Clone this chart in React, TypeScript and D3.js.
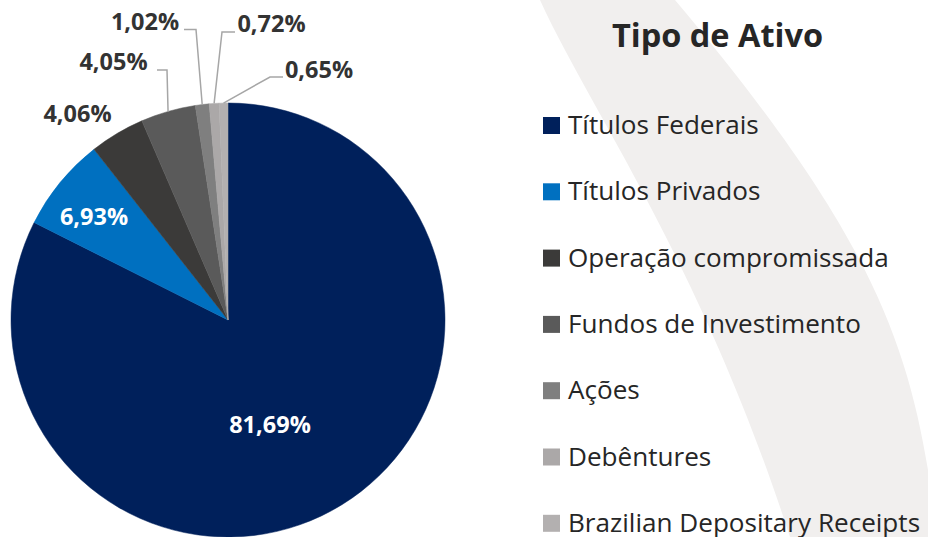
import React from "react";
import * as d3 from "d3";

const categories = [
  "Títulos Federais",
  "Títulos Privados",
  "Operação compromissada",
  "Fundos de Investimento",
  "Ações",
  "Debêntures",
  "Brazilian Depositary Receipts",
];
const values = [81.69, 6.93, 4.06, 4.05, 1.02, 0.72, 0.65];
const valueLabels = ["81,69%", "6,93%", "4,06%", "4,05%", "1,02%", "0,72%", "0,65%"];
const colors = ["#00205b", "#0070c0", "#3b3a39", "#5a5a5a", "#7f7f7f", "#aba8a8", "#b3b0b0"];
const title = "Tipo de Ativo";

const W = 928;
const H = 537;
const FONT = "'Open Sans', 'Noto Sans', sans-serif";

// label layout (annotation placement, like manually positioned labels)
type LabelLayout = {
  inside: boolean;
  x: number;
  y: number;
  line?: [number, number][];
};
const labelLayout: LabelLayout[] = [
  { inside: true, x: 270, y: 433 },
  { inside: true, x: 94, y: 225 },
  { inside: false, x: 77.5, y: 122 },
  { inside: false, x: 113.5, y: 70, line: [[157, 70], [167, 70]] },
  { inside: false, x: 145, y: 30, line: [[184, 29.5], [196, 29.5]] },
  { inside: false, x: 271.5, y: 32, line: [[235, 32], [222, 32]] },
  { inside: false, x: 319, y: 78, line: [[283, 77], [270, 77]] },
];

export default function App() {
  const cx = 228;
  const cy = 320;
  const r = 217;

  const pie = d3.pie<number>().sort(null).value((d) => d);
  const arcs = pie(values);
  const arcGen = d3.arc<d3.PieArcDatum<number>>().innerRadius(0).outerRadius(r);

  const anchor = (a: d3.PieArcDatum<number>): [number, number] => {
    const m = (a.startAngle + a.endAngle) / 2;
    return [cx + r * Math.sin(m), cy - r * Math.cos(m)];
  };

  const legendX = 543;
  const baseline0 = 134;
  const legendStep = 66.3;
  const legendY = d3.scaleLinear().domain([0, 1]).range([baseline0, baseline0 + legendStep]);

  const band =
    "M540,0 C590,110 700,260 790,537 L928,537 L928,470 C905,330 860,220 675,0 Z";

  return (
    <svg
      width={W}
      height={H}
      style={{ position: "absolute", left: 0, top: 0, background: "#fff" }}
      fontFamily={FONT}
    >
      <rect x={0} y={0} width={W} height={H} fill="#ffffff" />
      <path d={band} fill="#f1efee" />
      <g transform={`translate(${cx},${cy})`}>
        {arcs.map((a, i) => (
          <path key={i} d={arcGen(a) || ""} fill={colors[i]} stroke={colors[i]} strokeWidth={0.5} />
        ))}
      </g>
      {arcs.map((a, i) => {
        const L = labelLayout[i];
        if (!L.line) return null;
        const pts = [...L.line, anchor(a)];
        return (
          <path
            key={"l" + i}
            d={d3.line()(pts) || ""}
            fill="none"
            stroke="#a6a6a6"
            strokeWidth={1.5}
          />
        );
      })}
      {arcs.map((a, i) => {
        const L = labelLayout[i];
        return (
          <text
            key={"t" + i}
            x={L.x}
            y={L.y}
            textAnchor="middle"
            fontWeight={700}
            fontSize={23.5}
            fill={L.inside ? "#ffffff" : "#333333"}
          >
            {valueLabels[i]}
          </text>
        );
      })}
      <text x={717.5} y={47} textAnchor="middle" fontWeight={700} fontSize={32.5} fill="#262626">
        {title}
      </text>
      {categories.map((c, i) => {
        const y = legendY(i);
        return (
          <g key={"g" + i}>
            <rect x={legendX} y={y - 17} width={17} height={17} fill={colors[i]} />
            <text x={568} y={y} fontSize={26.1} fill="#262626">
              {c}
            </text>
          </g>
        );
      })}
    </svg>
  );
}
